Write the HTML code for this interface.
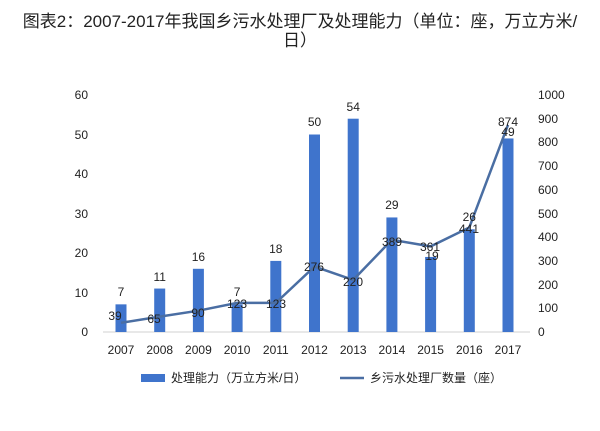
<!DOCTYPE html>
<html><head><meta charset="utf-8"><style>
body{margin:0;background:#fff;}
svg text{font-family:"Liberation Sans","Noto Sans CJK SC",sans-serif;fill:#222;}
</style></head><body>
<svg width="600" height="426" viewBox="0 0 600 426" xmlns="http://www.w3.org/2000/svg">
<rect width="600" height="426" fill="#fff"/>
<text x="300" y="27" font-size="17" text-anchor="middle">图表2：2007-2017年我国乡污水处理厂及处理能力（单位：座，万立方米/</text>
<text x="300" y="46" font-size="17" text-anchor="middle">日）</text>
<line x1="103" y1="332" x2="530" y2="332" stroke="#d0d0d0" stroke-width="1"/>
<g font-size="12" text-anchor="end">
<text x="88" y="336">0</text><text x="88" y="297">10</text><text x="88" y="257">20</text>
<text x="88" y="218">30</text><text x="88" y="178">40</text><text x="88" y="139">50</text><text x="88" y="99">60</text>
</g>
<g font-size="12" text-anchor="start">
<text x="538" y="336">0</text><text x="538" y="312">100</text><text x="538" y="289">200</text>
<text x="538" y="265">300</text><text x="538" y="241">400</text><text x="538" y="218">500</text>
<text x="538" y="194">600</text><text x="538" y="170">700</text><text x="538" y="146">800</text>
<text x="538" y="123">900</text><text x="538" y="99">1000</text>
</g>
<g fill="#3f74cc">
<rect x="115.5" y="304.35" width="11" height="27.65"/>
<rect x="154.2" y="288.55" width="11" height="43.45"/>
<rect x="192.9" y="268.8" width="11" height="63.2"/>
<rect x="231.6" y="304.35" width="11" height="27.65"/>
<rect x="270.3" y="260.9" width="11" height="71.1"/>
<rect x="309" y="134.5" width="11" height="197.5"/>
<rect x="347.7" y="118.7" width="11" height="213.3"/>
<rect x="386.4" y="217.45" width="11" height="114.55"/>
<rect x="425.1" y="256.95" width="11" height="75.05"/>
<rect x="463.8" y="229.3" width="11" height="102.7"/>
<rect x="502.5" y="138.45" width="11" height="193.55"/>
</g>
<polyline points="121,322.8 159.7,316.6 198.4,310.7 237.1,302.9 275.8,302.9 314.5,266.6 353.2,279.9 391.9,239.8 430.6,246.4 469.3,227.5 508,124.9" fill="none" stroke="#4a6ea3" stroke-width="2.5"/>
<g font-size="12" text-anchor="middle">
<text x="121" y="296">7</text><text x="159.7" y="281">11</text><text x="198.4" y="261">16</text>
<text x="237.1" y="296">7</text><text x="275.8" y="253">18</text><text x="314.5" y="126">50</text>
<text x="353.2" y="111">54</text><text x="391.9" y="209">29</text><text x="432" y="260">19</text>
<text x="469.3" y="221">26</text><text x="508" y="136">49</text>
<text x="115" y="320">39</text><text x="154" y="323">65</text><text x="198" y="317">90</text>
<text x="237" y="308">123</text><text x="276" y="308">123</text><text x="314" y="271">276</text>
<text x="353" y="286">220</text><text x="392" y="246">389</text><text x="430" y="251">361</text>
<text x="469" y="233">441</text><text x="508" y="126">874</text>
</g>
<g font-size="12" text-anchor="middle">
<text x="121" y="354">2007</text><text x="159.7" y="354">2008</text><text x="198.4" y="354">2009</text>
<text x="237.1" y="354">2010</text><text x="275.8" y="354">2011</text><text x="314.5" y="354">2012</text>
<text x="353.2" y="354">2013</text><text x="391.9" y="354">2014</text><text x="430.6" y="354">2015</text>
<text x="469.3" y="354">2016</text><text x="508" y="354">2017</text>
</g>
<rect x="141" y="374" width="24" height="8" fill="#3f74cc"/>
<text x="171" y="382" font-size="12">处理能力（万立方米/日）</text>
<line x1="340" y1="378" x2="364" y2="378" stroke="#4a6ea3" stroke-width="2.5"/>
<text x="370" y="382" font-size="12">乡污水处理厂数量（座）</text>
</svg>
</body></html>
